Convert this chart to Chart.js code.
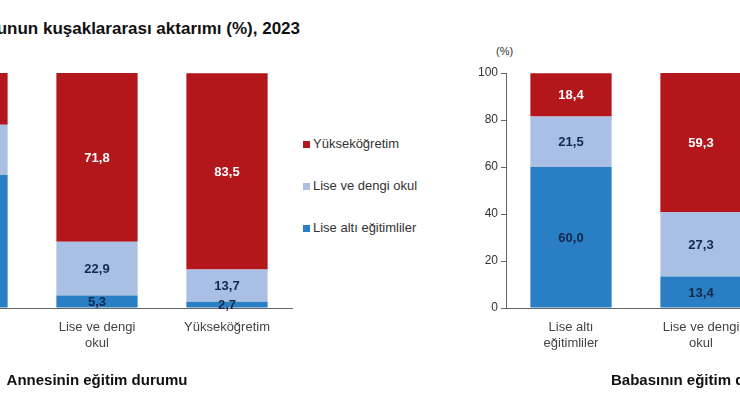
<!DOCTYPE html>
<html><head><meta charset="utf-8">
<script src="https://cdn.jsdelivr.net/npm/chart.js@4"></script>
<style>
body{margin:0;width:740px;height:420px;overflow:hidden;background:#fff;font-family:"Liberation Sans",Arial,sans-serif;position:relative}
canvas{position:absolute}
#title{position:absolute;right:440px;top:19px;white-space:nowrap;font-weight:bold;font-size:17px;color:#111}
#pct{position:absolute;left:496px;top:45px;font-size:11px;color:#333}
#legend{position:absolute;left:303px;top:136px;font-size:13px;color:#333}
#legend div{height:42px;display:flex;align-items:flex-start}
#legend span.sw{display:inline-block;width:7px;height:7px;margin:5px 3px 0 0}
</style></head><body>
<div id="title">Eğitim durumunun kuşaklararası aktarımı (%), 2023</div>
<div id="pct">(%)</div>
<div id="legend"></div>
<canvas id="c1"></canvas>
<canvas id="c2"></canvas>
<script>
const categories=[["Lise altı","eğitimliler"],["Lise ve dengi","okul"],"Yükseköğretim"];
const seriesNames=["Lise altı eğitimliler","Lise ve dengi okul","Yükseköğretim"];
const motherLiseAlti=[56.6,5.3,2.7];
const motherLise=[21.4,22.9,13.7];
const motherYuksek=[22.0,71.8,83.5];
const fatherLiseAlti=[60.0,13.4,3.9];
const fatherLise=[21.5,27.3,15.7];
const fatherYuksek=[18.4,59.3,80.4];
const yTicks=[0,20,40,60,80,100];
const colors=["#2a7fc4","#a9bfe3","#b3161b"];
const labelColors=["#13284d","#13284d","#ffffff"];

const leg=document.getElementById('legend');
[2,1,0].forEach(i=>{const d=document.createElement('div');d.innerHTML='<span class="sw" style="background:'+colors[i]+'"></span>'+seriesNames[i];leg.appendChild(d);});

const labelPlugin={id:'lbl',afterDatasetsDraw(ch){const c=ch.ctx;c.save();c.font='bold 13px "Liberation Sans",Arial';c.textAlign='center';c.textBaseline='middle';
ch.data.datasets.forEach((ds,i)=>{ch.getDatasetMeta(i).data.forEach((b,j)=>{const y=(b.y+b.base)/2;c.fillStyle=labelColors[i];c.fillText(ds.data[j].toFixed(1).replace('.',','),b.x,y+1);});});c.restore();}};

function make(id,left,yW,data,title,showY){
  const cv=document.getElementById(id);
  const w=yW+390+6,h=73+235+86;
  cv.width=w;cv.height=h;cv.style.width=w+'px';cv.style.height=h+'px';cv.style.left=left+'px';cv.style.top='0px';
  new Chart(cv,{type:'bar',plugins:[labelPlugin],
    data:{labels:categories,datasets:data.map((d,i)=>({label:seriesNames[i],data:d,backgroundColor:colors[i],categoryPercentage:1,barPercentage:0.625}))},
    options:{responsive:false,animation:false,layout:{padding:{top:73,right:6,left:0,bottom:0}},
      plugins:{legend:{display:false},tooltip:{enabled:false}},
      scales:{
        x:{stacked:true,grid:{display:false},border:{color:'#666'},
          ticks:{color:'#444',font:{size:13,family:'"Liberation Sans",Arial'},padding:4,maxRotation:0},
          title:{display:true,text:title,color:'#111',font:{size:15,weight:'bold',family:'"Liberation Sans",Arial'},padding:{top:12}},
          afterFit(s){s.height=86;}},
        y:{stacked:true,min:0,max:100,afterBuildTicks(s){s.ticks=yTicks.map(v=>({value:v}));},
          grid:{drawOnChartArea:false,tickLength:5,color:'#666'},border:{color:'#666',display:showY},
          ticks:{display:showY,color:'#333',font:{size:12,family:'"Liberation Sans",Arial'}},
          afterFit(s){s.width=yW;}}
      }}});
}
make('c1',-148,50,[motherLiseAlti,motherLise,motherYuksek],'Annesinin eğitim durumu',false);
make('c2',466,40,[fatherLiseAlti,fatherLise,fatherYuksek],'Babasının eğitim durumu',true);
</script></body></html>
